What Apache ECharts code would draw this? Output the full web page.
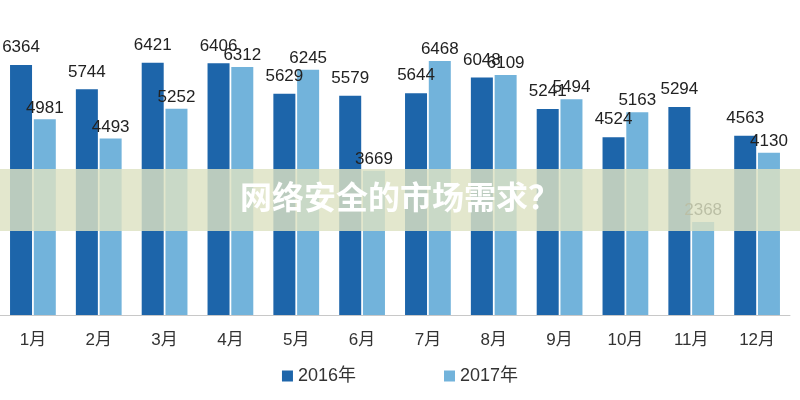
<!DOCTYPE html>
<html>
<head>
<meta charset="utf-8">
<script src="https://cdn.jsdelivr.net/npm/echarts@6/dist/echarts.min.js"></script>
<style>
  html, body { margin: 0; padding: 0; background: #fff; }
  #main { width: 800px; height: 400px; }
</style>
</head>
<body>
<div id="main"></div>
<script>
var months = ['1月', '2月', '3月', '4月', '5月', '6月', '7月', '8月', '9月', '10月', '11月', '12月'];
var data2016 = [6364, 5744, 6421, 6406, 5629, 5579, 5644, 6048, 5241, 4524, 5294, 4563];
var data2017 = [4981, 4493, 5252, 6312, 6245, 3669, 6468, 6109, 5494, 5163, 2368, 4130];
var seriesNames = ['2016年', '2017年'];
var bannerText = '网络安全的市场需求？';

var FONT = '"Liberation Sans", Arial, "Noto Sans CJK SC", sans-serif';

var chart = echarts.init(document.getElementById('main'));

chart.setOption({
    animation: false,
    color: ['#1d65aa', '#72b3db'],
    grid: { left: 0, right: 10, top: 40, bottom: 85 },
    legend: {
        data: seriesNames,
        bottom: 10,
        left: 'center',
        itemWidth: 11,
        itemHeight: 11,
        itemGap: 88,
        icon: 'rect',
        textStyle: { fontSize: 18, color: '#333', fontFamily: FONT }
    },
    xAxis: {
        type: 'category',
        data: months,
        axisLine: { lineStyle: { color: '#c8c8c8', width: 1 } },
        axisTick: { show: false },
        axisLabel: { fontSize: 17, color: '#333', margin: 17, fontFamily: FONT }
    },
    yAxis: {
        type: 'value',
        min: 0,
        max: 7000,
        show: false,
        splitLine: { show: false }
    },
    series: [
        {
            name: seriesNames[0],
            type: 'bar',
            data: data2016,
            barWidth: 22,
            barGap: '8%',
            label: {
                show: true, position: 'top', distance: 9,
                fontSize: 17, color: '#222', fontFamily: FONT
            }
        },
        {
            name: seriesNames[1],
            type: 'bar',
            data: data2017,
            barWidth: 22,
            barGap: '8%',
            label: {
                show: true, position: 'top', distance: 3,
                fontSize: 17, color: '#222', fontFamily: FONT
            }
        }
    ],
    graphic: [
        {
            type: 'rect',
            z: 100,
            shape: { x: 0, y: 169, width: 800, height: 62 },
            style: { fill: 'rgba(221, 226, 194, 0.82)' }
        },
        {
            type: 'text',
            z: 101,
            left: 'center',
            top: 181,
            style: {
                text: bannerText,
                fill: '#fff',
                fontSize: 32,
                fontWeight: 'bold',
                fontFamily: '"Noto Sans CJK SC", sans-serif'
            }
        }
    ]
});
</script>
</body>
</html>
